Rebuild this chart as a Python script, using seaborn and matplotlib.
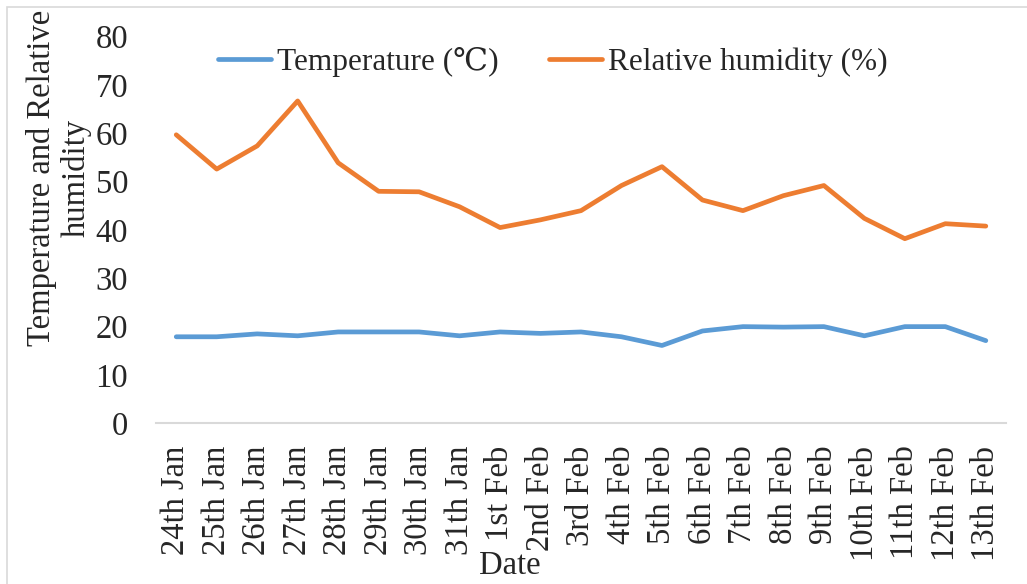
import matplotlib
matplotlib.use("Agg")
import matplotlib.pyplot as plt
from matplotlib.patches import Rectangle
import pandas as pd
import seaborn as sns

dates = ["24th Jan", "25th Jan", "26th Jan", "27th Jan", "28th Jan", "29th Jan",
         "30th Jan", "31th Jan", "1st Feb", "2nd Feb", "3rd Feb", "4th Feb",
         "5th Feb", "6th Feb", "7th Feb", "8th Feb", "9th Feb", "10th Feb",
         "11th Feb", "12th Feb", "13th Feb"]
temperature = [17.9, 17.9, 18.5, 18.1, 18.9, 18.9, 18.9, 18.1, 18.9, 18.6,
               18.9, 17.9, 16.1, 19.1, 20.0, 19.9, 20.0, 18.1, 20.0, 20.0, 17.1]
humidity = [59.7, 52.6, 57.4, 66.7, 53.9, 48.0, 47.9, 44.8, 40.5, 42.1,
            44.0, 49.2, 53.1, 46.2, 44.0, 47.1, 49.2, 42.4, 38.2, 41.3, 40.8]
series_names = ["Temperature (\u2103)", "Relative humidity (%)"]
colors = ["#5B9BD5", "#ED7D31"]

sns.set_style("white")
plt.rcParams["font.family"] = ["Liberation Serif", "DejaVu Serif"]

n = len(dates)
df = pd.DataFrame({
    "idx": list(range(n)) * 2,
    "value": temperature + humidity,
    "series": [series_names[0]] * n + [series_names[1]] * n,
})

fig = plt.figure(figsize=(10.27, 5.84), dpi=100)
ax = fig.add_axes([0.1519, 0.2752, 0.8277, 0.662])

sns.lineplot(data=df, x="idx", y="value", hue="series", palette=colors,
             linewidth=3.4, ax=ax, legend=True)

ax.set_xlim(-0.5, n - 0.5)
ax.set_ylim(0, 80)
ax.set_yticks(range(0, 81, 10))
ax.set_xticks(range(n))
ax.set_xticklabels(dates, rotation=90, fontsize=23.5)
ax.tick_params(axis="y", labelsize=23.5, length=0, pad=20)
ax.tick_params(axis="x", length=0, pad=16)

for s in ["top", "right", "left"]:
    ax.spines[s].set_visible(False)
ax.spines["bottom"].set_color("#d9d9d9")
ax.spines["bottom"].set_linewidth(1.5)

ax.set_ylabel("Temperature and Relative\nhumidity", fontsize=23.5, linespacing=1.15)
ax.yaxis.set_label_coords(-0.076, 0.634)
ax.set_xlabel("Date", fontsize=23.5)
ax.xaxis.set_label_coords(0.416, -0.33)

handles, labels = ax.get_legend_handles_labels()
ax.legend(handles, labels, loc="center", bbox_to_anchor=(0.538, 1 - 62 / 584),
          bbox_transform=fig.transFigure, ncol=2, frameon=False, fontsize=22.5,
          handlelength=1.7, handletextpad=0.2, columnspacing=1.6)

# light grey frame of the original chart area
fig.patches.append(Rectangle((7 / 1027, -0.1), 1.1, 1.1 - 7 / 584,
                             transform=fig.transFigure, fill=False,
                             edgecolor="#d9d9d9", linewidth=1.2))

fig.savefig("out.png", dpi=100)
